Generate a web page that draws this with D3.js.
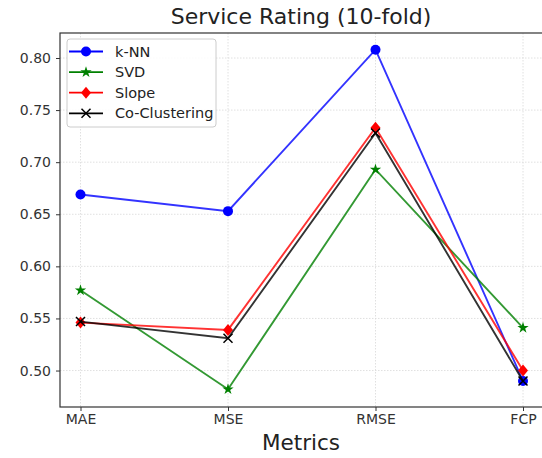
<html>
<head>
  <script src="https://d3js.org/d3.v7.min.js"></script>
  <meta charset="utf-8">
  <title>Service Rating</title>
<style>
body { margin: 0; background: #fff; }
svg { font-family: "DejaVu Sans", sans-serif; }
.grid line { stroke: #d8d8d8; stroke-dasharray: 1.5,1.5; stroke-width: 0.8; }
.axis path, .axis line { stroke: #333; }
</style>
</head>
<body>
<script>
var metrics = ['MAE', 'MSE', 'RMSE', 'FCP'];
var knn = [0.669, 0.653, 0.808, 0.490];
var svd = [0.577, 0.482, 0.693, 0.541];
var slope = [0.546, 0.539, 0.733, 0.500];
var coClustering = [0.547, 0.531, 0.728, 0.490];
var yTicks = [0.50, 0.55, 0.60, 0.65, 0.70, 0.75, 0.80];

var series = [
  {name: 'k-NN', values: knn, color: '#0000ff', marker: 'circle'},
  {name: 'SVD', values: svd, color: '#008000', marker: 'star'},
  {name: 'Slope', values: slope, color: '#ff0000', marker: 'diamond'},
  {name: 'Co-Clustering', values: coClustering, color: '#000000', marker: 'x'}
];

var width = 542;
var height = 458;
var plotLeft = 60, plotRight = 543, plotTop = 33, plotBottom = 407;

var svg = d3.select('body').append('svg')
  .attr('width', width)
  .attr('height', height);

var x = d3.scalePoint()
  .domain(metrics)
  .range([80.5, 523]);

var y = d3.scaleLinear()
  .domain([0.465, 0.824])
  .range([plotBottom, plotTop]);

// grid
var grid = svg.append('g').attr('class', 'grid');
grid.selectAll('.gy').data(yTicks).enter().append('line')
  .attr('x1', plotLeft).attr('x2', plotRight)
  .attr('y1', function(d) { return y(d); })
  .attr('y2', function(d) { return y(d); });
grid.selectAll('.gx').data(metrics).enter().append('line')
  .attr('y1', plotTop).attr('y2', plotBottom)
  .attr('x1', function(d) { return x(d); })
  .attr('x2', function(d) { return x(d); });

// frame
svg.append('rect')
  .attr('x', plotLeft).attr('y', plotTop)
  .attr('width', plotRight - plotLeft).attr('height', plotBottom - plotTop)
  .attr('fill', 'none').attr('stroke', '#333').attr('stroke-width', 1.2);

function styleAxis(g) {
  g.select('.domain').remove();
  g.attr('font-size', 14).attr('font-family', '"DejaVu Sans", sans-serif');
  g.selectAll('text').attr('fill', '#333');
}

svg.append('g').attr('class', 'axis')
  .attr('transform', 'translate(0,' + plotBottom + ')')
  .call(d3.axisBottom(x).tickSize(4).tickPadding(3))
  .call(styleAxis);

svg.append('g').attr('class', 'axis')
  .attr('transform', 'translate(' + plotLeft + ',0)')
  .call(d3.axisLeft(y).tickValues(yTicks).tickFormat(d3.format('.2f')).tickSize(4).tickPadding(5))
  .call(styleAxis);

var line = d3.line()
  .x(function(d, i) { return x(metrics[i]); })
  .y(function(d) { return y(d); });

function drawMarker(g, type, color, cx, cy) {
  if (type === 'circle') {
    g.append('circle').attr('cx', cx).attr('cy', cy).attr('r', 5).attr('fill', color);
  } else if (type === 'star') {
    g.append('path').attr('d', d3.symbol().type(d3.symbolStar).size(40)())
      .attr('transform', 'translate(' + cx + ',' + cy + ')').attr('fill', color);
  } else if (type === 'diamond') {
    g.append('path').attr('d', 'M0,-6L5,0L0,6L-5,0Z')
      .attr('transform', 'translate(' + cx + ',' + cy + ')').attr('fill', color);
  } else {
    g.append('path').attr('d', 'M-4.5,-4.5L4.5,4.5M-4.5,4.5L4.5,-4.5')
      .attr('transform', 'translate(' + cx + ',' + cy + ')')
      .attr('stroke', color).attr('stroke-width', 1.5).attr('fill', 'none');
  }
}

series.forEach(function(s) {
  var g = svg.append('g');
  g.append('path').datum(s.values)
    .attr('d', line)
    .attr('fill', 'none')
    .attr('stroke', s.color)
    .attr('stroke-width', 1.9)
    .attr('opacity', 0.8);
  s.values.forEach(function(v, i) {
    drawMarker(g, s.marker, s.color, x(metrics[i]), y(v));
  });
});

// legend
var legend = svg.append('g').attr('transform', 'translate(67,39)');
legend.append('rect')
  .attr('width', 149).attr('height', 88).attr('rx', 3)
  .attr('fill', '#fff').attr('fill-opacity', 0.85)
  .attr('stroke', '#ccc');
series.forEach(function(s, i) {
  var ly = 12.5 + i * 20.6;
  legend.append('line')
    .attr('x1', 2).attr('x2', 36).attr('y1', ly).attr('y2', ly)
    .attr('stroke', s.color).attr('stroke-width', 1.8);
  drawMarker(legend, s.marker, s.color, 19, ly);
  legend.append('text')
    .attr('x', 48).attr('y', ly + 5)
    .attr('font-size', '14.5px').attr('fill', '#222')
    .text(s.name);
});

svg.append('text')
  .attr('x', 301).attr('y', 24)
  .attr('text-anchor', 'middle')
  .attr('font-size', '22px').attr('fill', '#222')
  .text('Service Rating (10-fold)');

svg.append('text')
  .attr('x', 301).attr('y', 450)
  .attr('text-anchor', 'middle')
  .attr('font-size', '21.5px').attr('fill', '#222')
  .text('Metrics');
</script>
</body>
</html>
